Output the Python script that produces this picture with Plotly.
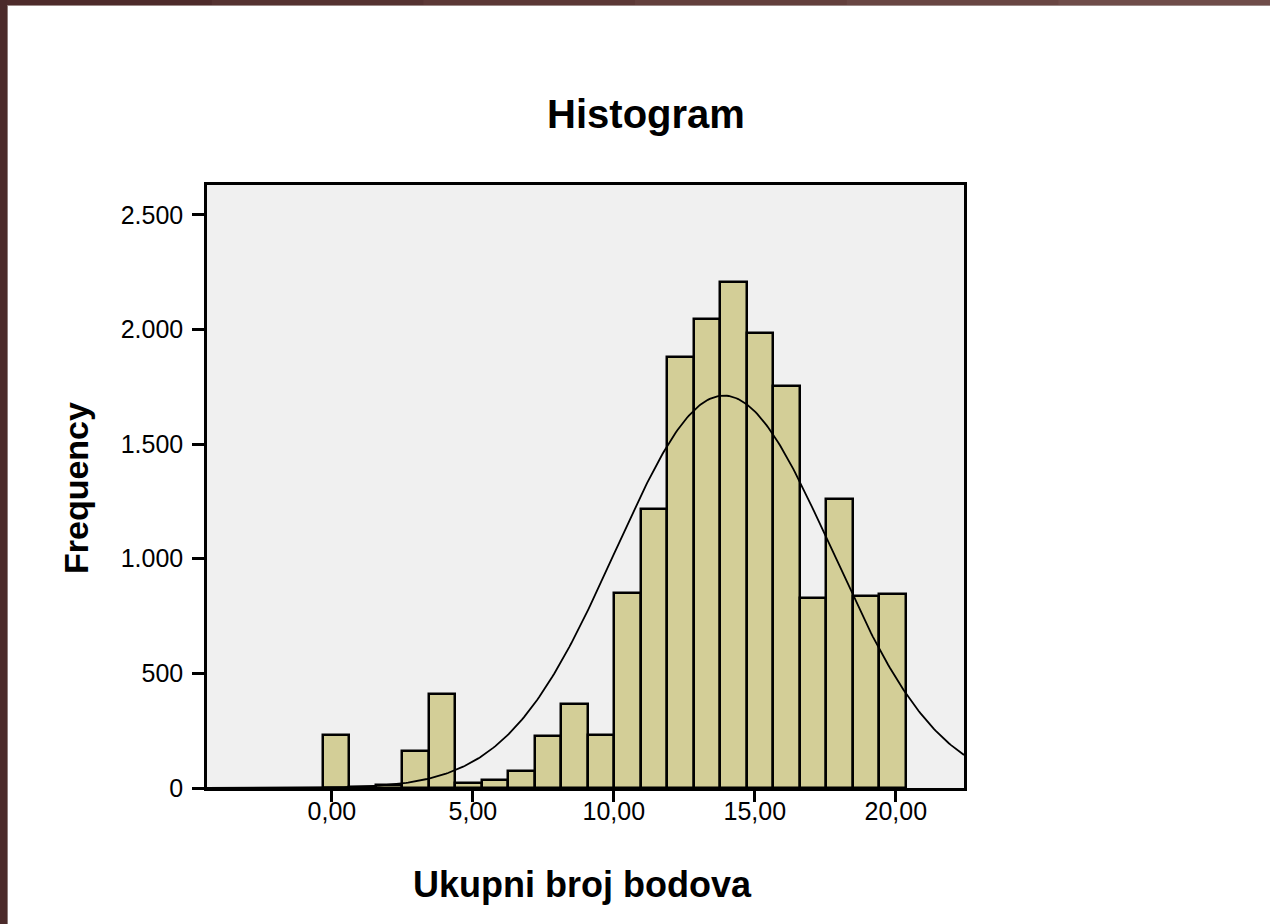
import numpy as np
import plotly.graph_objects as go

# ---- data ----
bin_start = -0.33          # left edge of first bin
bin_width = 0.94           # width of each bin
frequencies = [230, 5, 15, 160, 410, 23, 37, 76, 226, 365, 230,
               850, 1215, 1879, 2046, 2208, 1983, 1755, 827, 1260, 836, 844]
curve_mean = 13.9
curve_sd = 3.83
x_ticks = [0, 5, 10, 15, 20]
y_ticks = [0, 500, 1000, 1500, 2000, 2500]
title_text = "Histogram"
x_title = "Ukupni broj bodova"
y_title = "Frequency"

# ---- derived ----
n_total = sum(frequencies)
centers = [bin_start + bin_width * (i + 0.5) for i in range(len(frequencies))]
xc = np.linspace(-4.43, 22.42, 400)
yc = n_total * bin_width / (curve_sd * np.sqrt(2 * np.pi)) * np.exp(-0.5 * ((xc - curve_mean) / curve_sd) ** 2)

W, H = 1270, 924
L, R, T, B = 207, 964, 185, 788
FONT = "Arial, Liberation Sans, sans-serif"

def px_x(p):
    return (p - L) / (R - L)

def px_y(p):
    return (B - p) / (B - T)

fig = go.Figure()
fig.add_trace(go.Bar(
    x=centers, y=frequencies, width=bin_width,
    marker=dict(color="#D3CE97", line=dict(color="black", width=2.5)),
    hoverinfo="x+y", showlegend=False,
))
fig.add_trace(go.Scatter(
    x=xc, y=yc, mode="lines", line=dict(color="black", width=1.8),
    hoverinfo="skip", showlegend=False,
))

shapes = []
# dark frame strips of the slide (decoration)
top_cols = ["#4E2B2B", "#553231", "#5C3836", "#633F3C", "#694643", "#6F4C49"]
nseg = len(top_cols)
for i, c in enumerate(top_cols):
    shapes.append(dict(type="rect", xref="paper", yref="paper",
                       x0=px_x(W * i / nseg), x1=px_x(W * (i + 1) / nseg + 1),
                       y0=px_y(5), y1=px_y(0), fillcolor=c, line=dict(width=0), layer="above"))
shapes.append(dict(type="rect", xref="paper", yref="paper",
                   x0=px_x(0), x1=px_x(7), y0=px_y(H), y1=px_y(0),
                   fillcolor="#4B2A2A", line=dict(width=0), layer="above"))
shapes.append(dict(type="line", xref="paper", yref="paper",
                   x0=px_x(7), x1=px_x(W), y0=px_y(5.5), y1=px_y(5.5),
                   line=dict(color="#9C8A88", width=1), layer="above"))
shapes.append(dict(type="line", xref="paper", yref="paper",
                   x0=px_x(7.5), x1=px_x(7.5), y0=px_y(H), y1=px_y(5),
                   line=dict(color="#8E7C7A", width=1), layer="above"))

fig.update_layout(
    width=W, height=H,
    margin=dict(l=L, r=W - R, t=T, b=H - B, pad=0),
    paper_bgcolor="white", plot_bgcolor="#F0F0F0",
    separators=",.",
    bargap=0,
    font=dict(family=FONT, color="black"),
    title=dict(text="<b>" + title_text + "</b>", x=646 / W, xref="container", xanchor="center",
               y=1 - 114 / H, yref="container", yanchor="middle",
               font=dict(size=40, family=FONT, color="black")),
    xaxis=dict(range=[-4.43, 22.42], tickvals=x_ticks, tickformat=".2f",
               showgrid=False, zeroline=False, showline=True, mirror=True,
               linecolor="black", linewidth=2.5, ticks="outside", ticklen=11,
               tickwidth=2.5, tickcolor="black", ticklabelstandoff=-12,
               tickfont=dict(size=25, family=FONT, color="black")),
    yaxis=dict(range=[0, 2630], tickvals=y_ticks, tickformat=",d",
               showgrid=False, zeroline=False, showline=True, mirror=True,
               linecolor="black", linewidth=2.5, ticks="outside", ticklen=12,
               tickwidth=2.5, tickcolor="black", ticklabelstandoff=4,
               tickfont=dict(size=25, family=FONT, color="black")),
    shapes=shapes,
    annotations=[
        dict(text="<b>" + x_title + "</b>", xref="paper", yref="paper",
             x=px_x(582), y=px_y(884), xanchor="center", yanchor="middle",
             showarrow=False, font=dict(size=36, family=FONT, color="black")),
        dict(text="<b>" + y_title + "</b>", xref="paper", yref="paper",
             x=px_x(76), y=px_y(488), xanchor="center", yanchor="middle",
             textangle=-90, showarrow=False, font=dict(size=34, family=FONT, color="black")),
    ],
)

fig.write_html("out.html", config={"displayModeBar": False},
               post_script="document.body.style.margin='0px';")
